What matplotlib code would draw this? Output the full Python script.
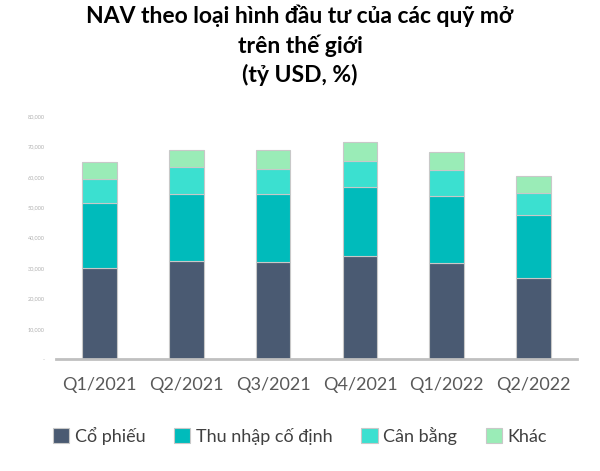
import numpy as np
import matplotlib.pyplot as plt
from matplotlib.ticker import FuncFormatter

# Dữ liệu (tỷ USD)
quarters = ['Q1/2021', 'Q2/2021', 'Q3/2021', 'Q4/2021', 'Q1/2022', 'Q2/2022']
co_phieu = [29900, 32200, 32000, 33850, 31800, 26750]
thu_nhap = [21600, 22250, 22300, 22650, 21900, 20550]
can_bang = [7900, 8600, 8400, 8700, 8400, 7500]
khac = [5600, 5800, 5950, 6050, 5950, 5600]

series_names = ['Cổ phiếu', 'Thu nhập cố định', 'Cân bằng', 'Khác']
colors = ['#4a5a72', '#00bbbb', '#3be0d0', '#9aecb7']

plt.rcParams['font.family'] = ['Lato', 'DejaVu Sans']

fig = plt.figure(figsize=(6, 4.71), dpi=100)
ax = fig.add_axes([0.093, 0.237, 0.869, 0.517])

x = np.arange(len(quarters))
bottom = np.zeros(len(quarters))
for name, vals, c in zip(series_names, [co_phieu, thu_nhap, can_bang, khac], colors):
    ax.bar(x, vals, width=0.4, bottom=bottom, color=c, label=name,
           edgecolor='#c8c8c8', linewidth=0.8)
    bottom += np.array(vals)

ax.set_xlim(-0.5, len(quarters) - 0.5)
ax.set_ylim(0, 80000)
ax.set_yticks(np.arange(0, 80001, 10000))
ax.yaxis.set_major_formatter(FuncFormatter(lambda v, p: '-' if v == 0 else f'{int(v):,}'))
ax.tick_params(axis='y', length=0, labelsize=4, labelcolor='#b0b0b0', pad=8)
ax.set_xticks(x)
ax.set_xticklabels(quarters)
ax.tick_params(axis='x', length=0, labelsize=13, labelcolor='#595959', pad=13)

for s in ['top', 'right', 'left']:
    ax.spines[s].set_visible(False)
ax.spines['bottom'].set_color('#c0c0c0')
ax.spines['bottom'].set_linewidth(2)

fig.text(0.5, 0.99, 'NAV theo loại hình đầu tư của các quỹ mở\ntrên thế giới\n(tỷ USD, %)',
         ha='center', va='top', fontsize=16.5, fontweight='bold', linespacing=1.4)

fig.legend(loc='center', bbox_to_anchor=(0.5, 0.075), ncol=4, frameon=False,
           fontsize=13, handlelength=0.9, handleheight=0.9, handletextpad=0.3,
           columnspacing=1.6, labelcolor='#404040')

fig.savefig('out.png', dpi=100)
